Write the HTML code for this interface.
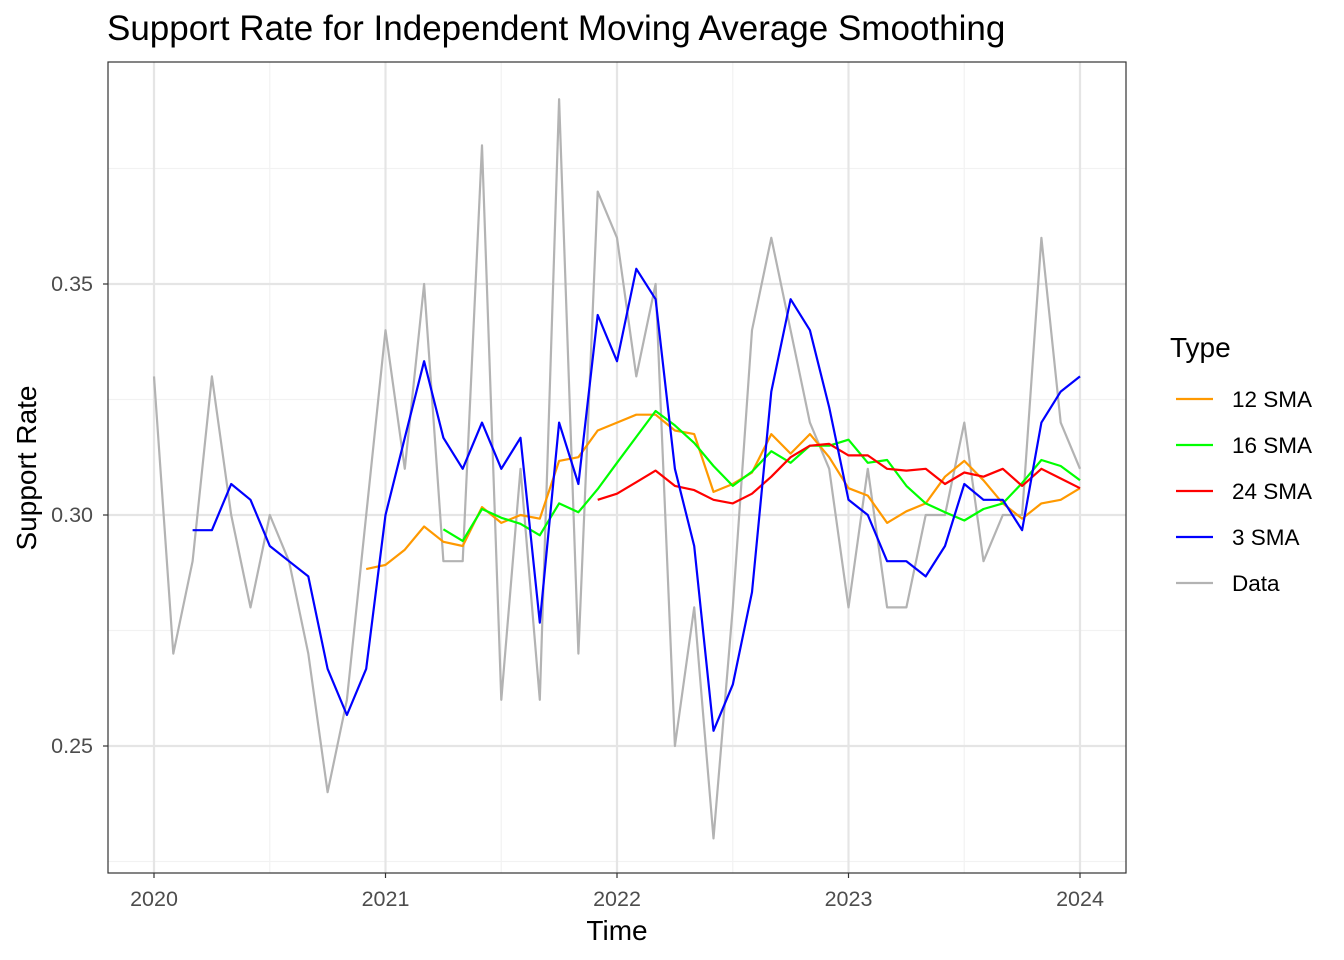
<!DOCTYPE html>
<html><head><meta charset="utf-8"><style>
body{margin:0;background:#fff;font-family:"Liberation Sans",Arial,sans-serif}
svg{display:block}
</style></head><body>
<svg id="chart" width="1344" height="960">
<text x="107" y="40" font-size="35" fill="#000">Support Rate for Independent Moving Average Smoothing</text>
<g id="grid"></g><g id="series"></g><g id="axes"></g><g id="legend"></g>
</svg>
<script>
const dataVals=[0.33,0.27,0.29,0.33,0.30,0.28,0.30,0.29,0.27,0.24,0.26,0.30,0.34,0.31,0.35,0.29,0.29,0.38,0.26,0.31,0.26,0.39,0.27,0.37,0.36,0.33,0.35,0.25,0.28,0.23,0.28,0.34,0.36,0.34,0.32,0.31,0.28,0.31,0.28,0.28,0.30,0.30,0.32,0.29,0.30,0.30,0.36,0.32,0.31];
const sma3Start=2;
const sma3=[.2967,.2967,.3067,.3033,.2933,.29,.2867,.2667,.2567,.2667,.30,.3167,.3333,.3167,.31,.32,.31,.3167,.2767,.32,.3067,.3433,.3333,.3533,.3467,.31,.2933,.2533,.2633,.2833,.3267,.3467,.34,.3233,.3033,.30,.29,.29,.2867,.2933,.3067,.3033,.3033,.2967,.32,.3267,.33];
const sma12Start=11;
const sma12=[.2883,.2892,.2925,.2975,.2942,.2933,.3017,.2983,.30,.2992,.3117,.3125,.3183,.32,.3217,.3217,.3183,.3175,.305,.3067,.3092,.3175,.3133,.3175,.3125,.3058,.3042,.2983,.3008,.3025,.3083,.3117,.3075,.3025,.2992,.3025,.3033,.3058];
const sma16Start=15;
const sma16=[.2969,.2944,.3013,.2994,.2981,.2956,.3025,.3006,.3056,.3113,.3169,.3225,.3194,.3156,.3106,.3063,.3094,.3138,.3113,.315,.315,.3163,.3113,.3119,.3063,.3025,.3006,.2988,.3013,.3025,.3069,.3119,.3106,.3075];
const sma24Start=23;
const sma24=[.3033,.3046,.3071,.3096,.3063,.3054,.3033,.3025,.3046,.3083,.3125,.315,.3154,.3129,.3129,.31,.3096,.31,.3067,.3092,.3083,.31,.3063,.31,.3079,.3058];
const yTicks=[0.25,0.30,0.35];
const yTickLabels=["0.25","0.30","0.35"];
const xTickLabels=["2020","2021","2022","2023","2024"];

const NS="http://www.w3.org/2000/svg";
const PL=108,PR=1126,PT=62,PB=873;
const xs=i=>154+i*(926/48);
const ys=v=>515-(v-0.30)*4620;
function mk(tag,attrs,parent){const e=document.createElementNS(NS,tag);for(const k in attrs)e.setAttribute(k,attrs[k]);parent.appendChild(e);return e;}
const grid=document.getElementById('grid'),ser=document.getElementById('series'),ax=document.getElementById('axes'),leg=document.getElementById('legend');
for(let k=0;k<4;k++){const v=0.225+k*0.05;const l=mk('line',{x1:PL,x2:PR,y1:ys(v),y2:ys(v),stroke:'#f2f2f2','stroke-width':1.2},grid);

}
for(let k=0;k<4;k++){const x=xs(6+12*k);const l=mk('line',{x1:x,x2:x,y1:PT,y2:PB,stroke:'#f2f2f2','stroke-width':1.2},grid);

}
yTicks.forEach((v,k)=>{const l=mk('line',{x1:PL,x2:PR,y1:ys(v),y2:ys(v),stroke:'#e5e5e5','stroke-width':2.2},grid);


const tk=mk('line',{x1:PL-5,x2:PL,y1:ys(v),y2:ys(v),stroke:'#333','stroke-width':1.2},ax);


const t=mk('text',{x:PL-15,y:ys(v)+7,'text-anchor':'end','font-size':21.5,fill:'#4d4d4d'},ax);t.textContent=yTickLabels[k];

});
xTickLabels.forEach((s,k)=>{const x=xs(12*k);const l=mk('line',{x1:x,x2:x,y1:PT,y2:PB,stroke:'#e5e5e5','stroke-width':2.2},grid);


const tk=mk('line',{x1:x,x2:x,y1:PB,y2:PB+5,stroke:'#333','stroke-width':1.2},ax);


const t=mk('text',{x:x,y:PB+33,'text-anchor':'middle','font-size':21.5,fill:'#4d4d4d'},ax);t.textContent=s;

});
const border=mk('rect',{x:PL,y:PT,width:PR-PL,height:PB-PT,fill:'none',stroke:'#333','stroke-width':1.2},ax);


const xt=mk('text',{x:617,y:940,'text-anchor':'middle','font-size':28},ax);xt.textContent='Time';


const yt=mk('text',{x:0,y:0,'text-anchor':'middle','font-size':28,transform:'translate(36,468) rotate(-90)'},ax);yt.textContent='Support Rate';


function line(vals,start,color,name){const p=vals.map((v,i)=>xs(start+i).toFixed(1)+','+ys(v).toFixed(1)).join(' ');
const e=mk('polyline',{points:p,fill:'none',stroke:color,'stroke-width':2.2,'stroke-linejoin':'round'},ser);

}
line(dataVals,0,'#b3b3b3','data-line');
line(sma12,sma12Start,'#ff9900','sma12-line');
line(sma16,sma16Start,'#00ff00','sma16-line');
line(sma24,sma24Start,'#ff0000','sma24-line');
line(sma3,sma3Start,'#0000ff','sma3-line');
const lt=mk('text',{x:1170,y:357,'font-size':28},leg);lt.textContent='Type';


[['12 SMA','#ff9900'],['16 SMA','#00ff00'],['24 SMA','#ff0000'],['3 SMA','#0000ff'],['Data','#b3b3b3']].forEach((e,k)=>{const y=399+46*k;
const g=mk('g',{},leg);


mk('line',{x1:1176,x2:1213,y1:y,y2:y,stroke:e[1],'stroke-width':2.2},g);
const t=mk('text',{x:1232,y:y+8,'font-size':22.5},g);t.textContent=e[0];});
</script>
</body></html>
